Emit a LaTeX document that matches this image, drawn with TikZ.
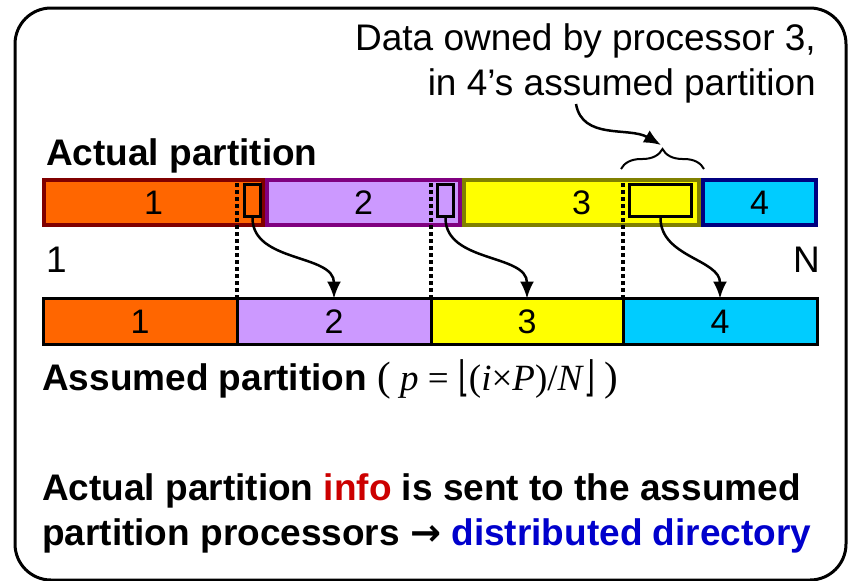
\documentclass[tikz,border=0pt]{standalone}
\usepackage{fontspec}
\setmainfont{Liberation Sans}
\newfontfamily\tnr{Liberation Serif}
\newfontfamily\dejavu{DejaVu Sans}
\usetikzlibrary{arrows.meta,decorations.pathreplacing}
\definecolor{procA}{HTML}{FF6600}
\definecolor{procB}{HTML}{CC99FF}
\definecolor{procC}{HTML}{FFFF00}
\definecolor{procD}{HTML}{00CCFF}
\definecolor{edgeA}{HTML}{800000}
\definecolor{edgeB}{HTML}{800080}
\definecolor{edgeC}{HTML}{808000}
\definecolor{edgeD}{HTML}{000080}
\definecolor{infored}{HTML}{CC0000}
\definecolor{dirblue}{HTML}{0000CC}
\newcommand\flbar[1]{\raisebox{-1pt}{\scalebox{1}[1.5]{\dejavu\fontsize{28}{28}\selectfont #1}}}
\tikzset{
  lbl/.style={inner sep=0pt, font=\fontsize{37}{45}\selectfont},
  actseg/.style={line width=4pt, inner sep=0pt, outer sep=0pt, minimum height=45pt, font=\fontsize{34}{40}\selectfont},
  assseg/.style={draw=black, line width=3pt, inner sep=0pt, outer sep=0pt, minimum height=46pt, font=\fontsize{34}{40}\selectfont},
  movebox/.style={draw=black, line width=3pt, inner sep=0pt, minimum height=32pt},
  guide/.style={line width=3.5pt, dash pattern=on 3.5pt off 3.5pt},
  sendto/.style={line width=2.5pt, -{Latex[length=17pt,width=14pt]}}
}
\begin{document}
\begin{tikzpicture}[x=1pt,y=1pt]
\useasboundingbox (0,0) rectangle (849,-581);
\draw[line width=3pt, rounded corners=36pt] (15,-8) rectangle (846,-580);
\foreach \n/\xa/\xb/\fc/\bc in {1/42/265/procA/edgeA,2/265/462/procB/edgeB,3/462/701/procC/edgeC,4/701/818/procD/edgeD}
  \node[actseg, fill=\fc, draw=\bc, minimum width={\xb-\xa-4}] (a\n) at ({(\xa+\xb)/2},-202.5) {\n};
\foreach \n/\xa/\xb/\fc in {1/43/237/procA,2/237/431/procB,3/431/623/procC,4/623/817/procD}
  \node[assseg, fill=\fc, minimum width={\xb-\xa}] (b\n) at ({(\xa+\xb)/2},-321.5) {\n};
\foreach \n in {2,3,4} \draw[guide] (b\n.north west) -- (b\n.north west |- a1.north);
\node[movebox, fill=procA, minimum width=16pt] (d1) at (252.5,-200.5) {};
\node[movebox, fill=procB, minimum width=16pt] (d2) at (445.5,-200.5) {};
\node[movebox, fill=procC, minimum width=62pt] (d3) at (660.5,-200.5) {};
\draw[sendto] (d1.south) to[out=-90,in=90] (b2.north);
\draw[sendto] (d2.south) to[out=-90,in=90] (b3.north);
\draw[sendto] (d3.south) to[out=-90,in=90] (b4.north);
\node[lbl, anchor=base west] (actual) at (46,-165) {\textbf{Actual partition}};
\node[lbl, anchor=base east, align=right] (owned) at (816,-95) {Data owned by processor 3,\\in 4’s assumed partition};
\draw[line width=2pt, decorate, decoration={brace, amplitude=20pt}] (621,-169) -- (704,-169);
\coordinate (bracetip) at (661,-145);
\coordinate (ownedfoot) at (576,-104);
\draw[sendto] (ownedfoot) to[out=-80,in=150] (bracetip);
\node[lbl, anchor=base west] (first) at (46,-272) {1};
\node[lbl, anchor=base east] (last) at (820,-272) {N};
\node[lbl, anchor=base west] (assumed) at (42,-390) {\textbf{Assumed partition} {\tnr{\fontsize{41}{41}\selectfont(} \textit{p} = \flbar{⌊}(\textit{i}×\textit{P})/\textit{N}\flbar{⌋} {\fontsize{41}{41}\selectfont)}}};
\node[lbl, anchor=base west, align=left] (note) at (42,-545) {\textbf{Actual partition \textcolor{infored}{info} is sent to the assumed}\\\textbf{partition processors {\dejavu\bfseries →} \textcolor{dirblue}{distributed directory}}};
\end{tikzpicture}
\end{document}
